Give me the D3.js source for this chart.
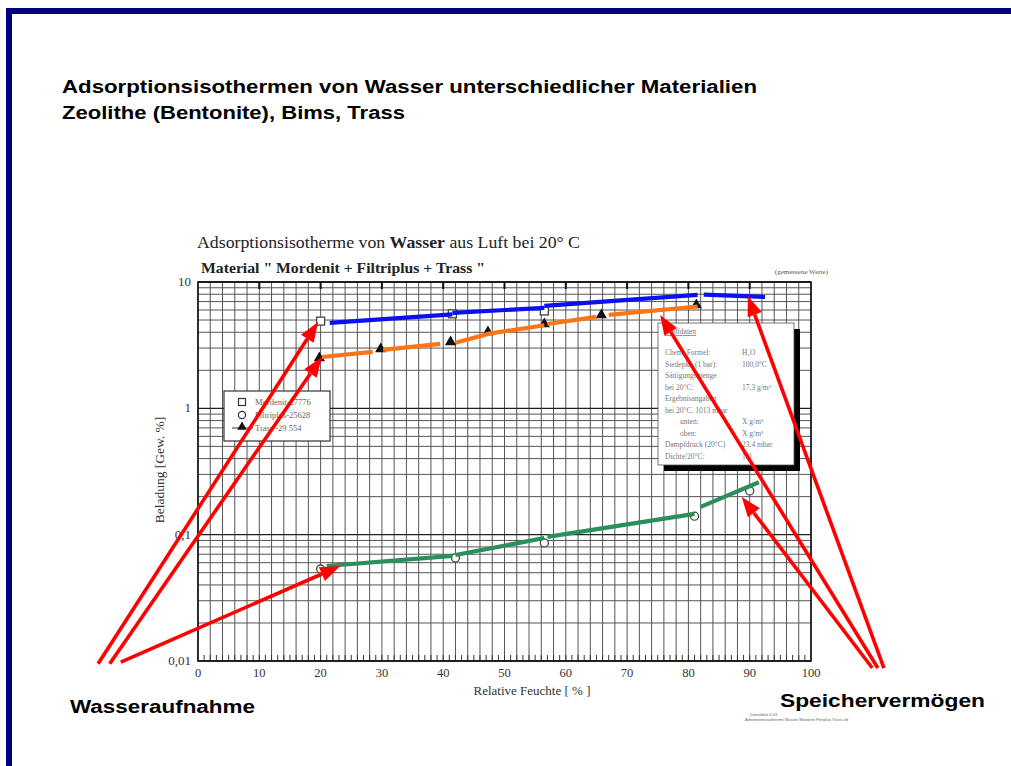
<!DOCTYPE html>
<html><head><meta charset="utf-8">
<script src="https://cdn.jsdelivr.net/npm/d3@7/dist/d3.min.js"></script>
<style>html,body{margin:0;padding:0;background:#fff;}svg{display:block;}</style>
</head><body>
<svg id="c" width="1011" height="766"></svg>
<script>
// ---- data ----
const xTicks = [0,10,20,30,40,50,60,70,80,90,100];
const yTicks = [10,1,0.1,0.01];
const yTickLabels = ["10","1","0,1","0,01"];
const legendLabels = ["Mordenit-27776","Filtriplus-25628","Trass -29 554"];
// measured points (x = rel. Feuchte %, y = Beladung Gew.%)
const mordenitX = [20, 41.5, 56.5];
const mordenitY = [4.9, 5.6, 5.9];
const filtriplusX = [20, 42, 56.5, 81, 90];
const filtriplusY = [0.0535, 0.0655, 0.086, 0.14, 0.222];
const trassX = [19.8, 29.8, 41.2, 47.3, 56.5, 65.8, 81.3];
const trassY = [2.46, 2.9, 3.29, 3.95, 4.57, 5.39, 6.47];
// hand-drawn overlay segments
const blueSegs = [
  [[21.5,4.75],[41.5,5.55]],
  [[41.5,5.69],[56.5,6.24]],
  [[56.5,6.47],[81.5,7.9]],
  [[82.5,7.95],[92.5,7.62]]
];
const orangeSegs = [
  [[20.2,2.55],[28.5,2.8]],
  [[30.2,2.9],[39.5,3.24]],
  [[42,3.3],[47.5,3.9],[56.5,4.55]],
  [[57,4.65],[65,5.3]],
  [[67,5.5],[81.5,6.4]]
];
const greenSegs = [
  [[21,0.0565],[41.5,0.068]],
  [[42,0.069],[56.5,0.094]],
  [[57,0.096],[81,0.146]],
  [[82,0.166],[91.5,0.26]]
];
// annotation arrows [from, to] in data coordinates
const arrowsLeft = [
  [[-16.3,0.0095],[19.6,4.83]],
  [[-14.4,0.0095],[20.2,2.55]],
  [[-12.6,0.0098],[23.2,0.0565]]
];
const arrowsRight = [
  [[110,0.0088],[88.7,0.199]],
  [[110.9,0.0088],[75.4,5.49]],
  [[111.9,0.0088],[89.7,7.76]]
];
const infoLines = [
  ["Chem. Formel:","H₂O"],
  ["Siedepkt. (1 bar):","100,0°C"],
  ["Sättigungsmenge",""],
  ["bei 20°C:","17,3 g/m³"],
  ["Ergebnisangaben",""],
  ["bei 20°C, 1013 mbar",""],
  ["        unten:","X g/m³"],
  ["        oben:","X g/m³"],
  ["Dampfdruck (20°C)","23,4 mbar"],
  ["Dichte/20°C:","1,0"]
];

// ---- drawing ----
const svg = d3.select("#c");
const SERIF = "'Liberation Serif','Times New Roman',serif";
const SANS = "'Liberation Sans',Arial,sans-serif";

// page border
svg.append("rect").attr("x",6).attr("y",8).attr("width",1011-6).attr("height",6).attr("fill","#000080");
svg.append("rect").attr("x",6).attr("y",8).attr("width",6).attr("height",766-8).attr("fill","#000080");

// page titles
svg.append("text").attr("x",62).attr("y",93).attr("font-family",SANS).attr("font-weight","bold")
  .attr("font-size",17.5).attr("textLength",695).attr("lengthAdjust","spacingAndGlyphs")
  .text("Adsorptionsisothermen von Wasser unterschiedlicher Materialien");
svg.append("text").attr("x",62).attr("y",119).attr("font-family",SANS).attr("font-weight","bold")
  .attr("font-size",17.5).attr("textLength",343).attr("lengthAdjust","spacingAndGlyphs")
  .text("Zeolithe (Bentonite), Bims, Trass");

const x = d3.scaleLinear().domain([0,100]).range([198,811]);
const y = d3.scaleLog().domain([0.01,10]).range([661,282]);

// chart title
const t1 = svg.append("text").attr("x",197).attr("y",248).attr("font-family",SERIF).attr("font-size",16)
  .attr("fill","#222").attr("textLength",383).attr("lengthAdjust","spacingAndGlyphs");
t1.append("tspan").text("Adsorptionsisotherme von ");
t1.append("tspan").attr("font-weight","bold").text("Wasser");
t1.append("tspan").text(" aus Luft bei 20° C");
const t2 = svg.append("text").attr("x",201).attr("y",273).attr("font-family",SERIF).attr("font-size",14)
  .attr("fill","#222").attr("textLength",284).attr("lengthAdjust","spacingAndGlyphs");
t2.append("tspan").attr("font-weight","bold").text("Material \" ");
t2.append("tspan").attr("font-weight","bold").text("Mordenit + Filtriplus + Trass");
t2.append("tspan").attr("font-weight","bold").text(" \"");
svg.append("text").attr("x",828).attr("y",274).attr("text-anchor","end").attr("font-family",SERIF)
  .attr("font-size",7).attr("fill","#555").text("(gemessene Werte)");

// grid
const g = svg.append("g");
const vgrid = d3.range(0,101,2);
g.selectAll("line.v").data(vgrid).join("line")
  .attr("x1",d=>x(d)).attr("x2",d=>x(d)).attr("y1",y(10)).attr("y2",y(0.01))
  .attr("stroke","#555").attr("stroke-width",1);
const hgrid = [];
[0.01,0.1,1].forEach(dec=>{ for(let k=1;k<10;k++) hgrid.push(dec*k); });
hgrid.push(10);
g.selectAll("line.h").data(hgrid).join("line")
  .attr("x1",x(0)).attr("x2",x(100)).attr("y1",d=>y(d)).attr("y2",d=>y(d))
  .attr("stroke",d=>yTicks.includes(d)?"#222":"#555")
  .attr("stroke-width",d=>yTicks.includes(d)?1.4:1);
// bottom minor ticks
g.selectAll("line.mt").data(d3.range(1,100,1)).join("line")
  .attr("x1",d=>x(d)).attr("x2",d=>x(d)).attr("y1",y(0.01)).attr("y2",y(0.01)-6)
  .attr("stroke","#333").attr("stroke-width",1);
// top bold ticks
g.selectAll("line.tt").data(d3.range(10,100,10)).join("line")
  .attr("x1",d=>x(d)).attr("x2",d=>x(d)).attr("y1",y(10)).attr("y2",y(10)+7)
  .attr("stroke","#111").attr("stroke-width",2);
// frame
svg.append("rect").attr("x",x(0)).attr("y",y(10)).attr("width",x(100)-x(0)).attr("height",y(0.01)-y(10))
  .attr("fill","none").attr("stroke","#111").attr("stroke-width",1.6);

// axes labels
svg.selectAll("text.yl").data(yTicks).join("text")
  .attr("x",191).attr("y",d=>y(d)+4).attr("text-anchor","end").attr("font-family",SERIF)
  .attr("font-size",13).attr("fill","#333").text((d,i)=>yTickLabels[i]);
svg.selectAll("text.xl").data(xTicks).join("text")
  .attr("x",d=>x(d)).attr("y",677).attr("text-anchor","middle").attr("font-family",SERIF)
  .attr("font-size",12.5).attr("fill","#333").text(d=>d);
svg.append("text").attr("x",532).attr("y",695).attr("text-anchor","middle").attr("font-family",SERIF)
  .attr("font-size",13).attr("fill","#333").text("Relative Feuchte [ % ]");
svg.append("text").attr("transform","translate(164,470) rotate(-90)").attr("text-anchor","middle")
  .attr("font-family",SERIF).attr("font-size",13.5).attr("fill","#333").text("Beladung [Gew. %]");

// legend
const lg = svg.append("g");
lg.append("rect").attr("x",224).attr("y",391).attr("width",106).attr("height",50)
  .attr("fill","#fff").attr("stroke","#333").attr("stroke-width",1.2);
lg.append("rect").attr("x",238.5).attr("y",398.5).attr("width",7).attr("height",7).attr("fill","none").attr("stroke","#333").attr("stroke-width",1.2);
lg.append("circle").attr("cx",242).attr("cy",415).attr("r",3.6).attr("fill","none").attr("stroke","#333").attr("stroke-width",1.2);
lg.append("line").attr("x1",232).attr("x2",253).attr("y1",428).attr("y2",428).attr("stroke","#333");
lg.append("path").attr("d",d3.symbol(d3.symbolTriangle,40)()).attr("transform","translate(242,427)").attr("fill","#111");
lg.selectAll("text").data(legendLabels).join("text")
  .attr("x",255).attr("y",(d,i)=>405+i*13).attr("font-family",SERIF).attr("font-size",8.5)
  .attr("fill","#666").text(d=>d);

// info box
const ib = svg.append("g");
ib.append("rect").attr("x",664).attr("y",329).attr("width",136).attr("height",142).attr("fill","#000");
ib.append("rect").attr("x",658).attr("y",323).attr("width",136).attr("height",142).attr("fill","#fff").attr("stroke","#555").attr("stroke-width",0.8);
ib.append("text").attr("x",665).attr("y",334).attr("font-family",SERIF).attr("font-size",7.5).attr("fill","#777")
  .attr("text-decoration","underline").text("Stoffdaten");
ib.selectAll("text.l").data(infoLines).join("text")
  .attr("x",665).attr("y",(d,i)=>355+i*11.5).attr("font-family",SERIF).attr("font-size",7.5)
  .attr("fill","#777").attr("xml:space","preserve").style("white-space","pre").text(d=>d[0]);
ib.selectAll("text.v").data(infoLines).join("text")
  .attr("x",742).attr("y",(d,i)=>355+i*11.5).attr("font-family",SERIF).attr("font-size",7.5)
  .attr("fill","#777").text(d=>d[1]);

// markers
svg.selectAll("rect.mq").data(mordenitX).join("rect")
  .attr("x",(d)=>x(d)-4).attr("y",(d,i)=>y(mordenitY[i])-4).attr("width",8).attr("height",8)
  .attr("fill","#fff").attr("stroke","#444").attr("stroke-width",1.3);
svg.selectAll("circle.mc").data(filtriplusX).join("circle")
  .attr("cx",d=>x(d)).attr("cy",(d,i)=>y(filtriplusY[i])).attr("r",4)
  .attr("fill","#fff").attr("stroke","#444").attr("stroke-width",1.3);
svg.selectAll("path.mt").data(trassX).join("path")
  .attr("d",d3.symbol(d3.symbolTriangle,55)())
  .attr("transform",(d,i)=>`translate(${x(d)},${y(trassY[i])-1})`).attr("fill","#111");

// overlay lines
const line = d3.line().x(d=>x(d[0])).y(d=>y(d[1]));
function drawSegs(segs,color){
  svg.append("g").selectAll("path").data(segs).join("path")
    .attr("d",line).attr("fill","none").attr("stroke",color).attr("stroke-width",4.2).attr("stroke-linecap","butt");
}
drawSegs(blueSegs,"#0a10f0");
drawSegs(orangeSegs,"#ff7415");
drawSegs(greenSegs,"#2a8f5c");

// red arrows
function drawArrow(a){
  const x0=x(a[0][0]), y0=y(a[0][1]), x1=x(a[1][0]), y1=y(a[1][1]);
  const ang=Math.atan2(y1-y0,x1-x0), L=20, W=7.5;
  const bx=x1-L*Math.cos(ang), by=y1-L*Math.sin(ang);
  svg.append("line").attr("x1",x0).attr("y1",y0).attr("x2",bx).attr("y2",by)
    .attr("stroke","#ff0000").attr("stroke-width",3.6);
  const px=-Math.sin(ang), py=Math.cos(ang);
  svg.append("path").attr("d",`M${x1},${y1}L${bx+W*px},${by+W*py}L${bx-W*px},${by-W*py}Z`).attr("fill","#ff0000");
}
arrowsLeft.forEach(drawArrow);
arrowsRight.forEach(drawArrow);

svg.append("text").attr("x",70).attr("y",713).attr("font-family",SANS).attr("font-weight","bold")
  .attr("font-size",18).attr("textLength",185).attr("lengthAdjust","spacingAndGlyphs").text("Wasseraufnahme");
svg.append("text").attr("x",780).attr("y",707).attr("font-family",SANS).attr("font-weight","bold")
  .attr("font-size",18).attr("textLength",205).attr("lengthAdjust","spacingAndGlyphs").text("Speichervermögen");

// tiny footnote
svg.append("text").attr("x",750).attr("y",716).attr("font-family",SANS).attr("font-size",4)
  .attr("fill","#666").text("Datenblatt 4.03");
svg.append("text").attr("x",745).attr("y",721).attr("font-family",SANS).attr("font-size",4)
  .attr("fill","#666").text("Adsorptionsisotherme Wasser Mordenit Filtriplus Trass.cdr");
</script>
</body></html>
